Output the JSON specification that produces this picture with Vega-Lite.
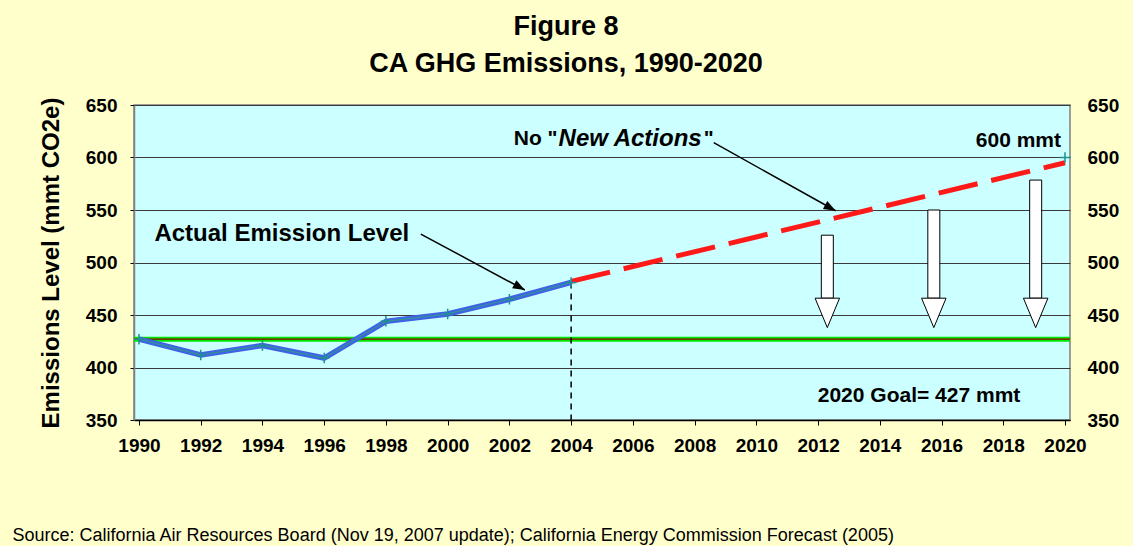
{
  "$schema": "https://vega.github.io/schema/vega-lite/v6.json",
  "autosize": {"type": "none"},
  "padding": {"left": 134, "top": 105, "right": 63, "bottom": 126},
  "width": 936,
  "height": 315,
  "background": "#FFFFCC",
  "title": {
    "text": ["Figure 8", "CA GHG Emissions, 1990-2020"],
    "font": "Liberation Sans",
    "fontSize": 27,
    "fontWeight": "bold",
    "color": "#000000",
    "lineHeight": 37,
    "anchor": "middle",
    "frame": "group",
    "dx": -36,
    "offset": 18
  },
  "config": {
    "font": "Liberation Sans",
    "view": {"fill": "#CCFFFF", "stroke": "#808080", "strokeWidth": 1.5}
  },
  "datasets": {
    "actual": [
      {"year": 1990, "value": 427},
      {"year": 1992, "value": 412},
      {"year": 1994, "value": 421},
      {"year": 1996, "value": 409},
      {"year": 1998, "value": 444},
      {"year": 2000, "value": 451},
      {"year": 2002, "value": 465},
      {"year": 2004, "value": 481}
    ],
    "forecast": [
      {"year": 2004, "value": 482},
      {"year": 2020, "value": 595}
    ],
    "endMarker": [{"year": 2020, "value": 600}],
    "goal": [{"value": 427}],
    "divider": [{"year": 2004, "value": 481}],
    "blockArrows": [
      {"year": 2012.3, "top": 526},
      {"year": 2015.75, "top": 550},
      {"year": 2019.05, "top": 578.5}
    ],
    "pointers": [
      {"x1": 1999.13, "y1": 527.1, "x2": 2002.5, "y2": 473.8},
      {"x1": 2008.62, "y1": 614.1, "x2": 2012.57, "y2": 549.3}
    ]
  },
  "resolve": {"scale": {"y": "independent"}},
  "layer": [
    {
      "data": {"name": "goal"},
      "layer": [
        {
          "mark": {"type": "rule", "color": "#00E600", "strokeWidth": 5},
          "encoding": {
            "y": {
              "field": "value",
              "type": "quantitative",
              "scale": {"domain": [350, 650], "nice": false, "zero": false},
              "axis": {
                "orient": "right",
                "values": [350, 400, 450, 500, 550, 600, 650],
                "title": null,
                "grid": false,
                "domain": false,
                "ticks": false,
                "labelPadding": 17,
                "labelFont": "Liberation Sans",
                "labelFontSize": 19,
                "labelFontWeight": "bold",
                "labelColor": "#000000"
              }
            }
          }
        },
        {
          "mark": {"type": "rule", "color": "#990000", "strokeWidth": 1.2},
          "encoding": {
            "y": {"field": "value", "type": "quantitative"}
          }
        }
      ]
    },
    {
      "layer": [
        {
          "data": {"name": "divider"},
          "mark": {"type": "rule", "color": "#000000", "strokeWidth": 1.5, "strokeDash": [6, 5]},
          "encoding": {
            "x": {
              "field": "year",
              "type": "quantitative",
              "scale": {"domain": [1990, 2020], "nice": false, "zero": false},
              "axis": {
                "values": [1990, 1992, 1994, 1996, 1998, 2000, 2002, 2004, 2006, 2008, 2010, 2012, 2014, 2016, 2018, 2020],
                "format": "d",
                "grid": false,
                "domainColor": "#000000",
                "domainWidth": 1.5,
                "tickColor": "#000000",
                "tickSize": 5,
                "labelPadding": 11,
                "labelFont": "Liberation Sans",
                "labelFontSize": 19,
                "labelFontWeight": "bold",
                "labelColor": "#000000",
                "labelFlush": false,
                "title": "Source: California Air Resources Board (Nov 19, 2007 update); California Energy Commission Forecast (2005)",
                "titleFont": "Liberation Sans",
                "titleFontSize": 18,
                "titleFontWeight": "normal",
                "titleColor": "#000000",
                "titleAnchor": "start",
                "titleAlign": "left",
                "titleBaseline": "middle",
                "titleX": -122,
                "titleY": 115
              }
            },
            "y": {
              "field": "value",
              "type": "quantitative",
              "scale": {"domain": [350, 650], "nice": false, "zero": false},
              "axis": {
                "orient": "left",
                "values": [350, 400, 450, 500, 550, 600, 650],
                "grid": true,
                "gridColor": "#3A3A3A",
                "gridWidth": 1,
                "domainColor": "#808080",
                "domainWidth": 1.5,
                "tickColor": "#000000",
                "tickSize": 4,
                "labelPadding": 13,
                "labelFont": "Liberation Sans",
                "labelFontSize": 19,
                "labelFontWeight": "bold",
                "labelColor": "#000000",
                "title": "Emissions Level (mmt CO2e)",
                "titleFont": "Liberation Sans",
                "titleFontSize": 24,
                "titleFontWeight": "bold",
                "titleColor": "#000000",
                "titlePadding": 22
              }
            },
            "y2": {"datum": 350}
          }
        },
        {
          "data": {"name": "forecast"},
          "mark": {"type": "line", "color": "#FF1A1A", "strokeWidth": 5, "strokeDash": [40, 14]},
          "encoding": {
            "x": {"field": "year", "type": "quantitative"},
            "y": {"field": "value", "type": "quantitative"}
          }
        },
        {
          "data": {"name": "actual"},
          "mark": {"type": "line", "color": "#3F62E6", "strokeWidth": 5.5},
          "encoding": {
            "x": {"field": "year", "type": "quantitative"},
            "y": {"field": "value", "type": "quantitative"}
          }
        },
        {
          "data": {"name": "actual"},
          "mark": {"type": "line", "color": "#2E9494", "strokeWidth": 1.2},
          "encoding": {
            "x": {"field": "year", "type": "quantitative"},
            "y": {"field": "value", "type": "quantitative"}
          }
        },
        {
          "data": {"name": "actual"},
          "mark": {"type": "point", "shape": "M-1,0L1,0M0,-1L0,1", "size": 110, "filled": false, "stroke": "#1F8F8F", "strokeWidth": 1.5, "opacity": 1},
          "encoding": {
            "x": {"field": "year", "type": "quantitative"},
            "y": {"field": "value", "type": "quantitative"}
          }
        },
        {
          "data": {"name": "endMarker"},
          "mark": {"type": "point", "shape": "M-1,0L1,0M0,-1L0,1", "size": 110, "filled": false, "stroke": "#1F8F8F", "strokeWidth": 1.5, "opacity": 1, "clip": false},
          "encoding": {
            "x": {"field": "year", "type": "quantitative"},
            "y": {"field": "value", "type": "quantitative"}
          }
        },
        {
          "data": {"name": "blockArrows"},
          "mark": {"type": "bar", "size": 12, "fill": "#FFFFFF", "stroke": "#000000", "strokeWidth": 1},
          "encoding": {
            "x": {"field": "year", "type": "quantitative"},
            "y": {"field": "top", "type": "quantitative"},
            "y2": {"datum": 466}
          }
        },
        {
          "data": {"name": "blockArrows"},
          "mark": {"type": "point", "shape": "M-1,0L1,0L0,2.4Z", "size": 600, "filled": true, "fill": "#FFFFFF", "stroke": "#000000", "strokeWidth": 1, "opacity": 1},
          "encoding": {
            "x": {"field": "year", "type": "quantitative"},
            "y": {"datum": 466}
          }
        },
        {
          "data": {"name": "pointers"},
          "mark": {"type": "rule", "color": "#000000", "strokeWidth": 1.5},
          "encoding": {
            "x": {"field": "x1", "type": "quantitative"},
            "y": {"field": "y1", "type": "quantitative"},
            "x2": {"field": "x2"},
            "y2": {"field": "y2"}
          }
        },
        {
          "data": {"name": "pointers"},
          "mark": {"type": "point", "shape": "M0,0L-2,-0.75L-2,0.75Z", "size": 144, "angle": 28.5, "filled": true, "color": "#000000", "opacity": 1},
          "encoding": {
            "x": {"field": "x2", "type": "quantitative"},
            "y": {"field": "y2", "type": "quantitative"}
          }
        },
        {
          "data": {"values": [{"year": 1990.5, "value": 527.1, "label": "Actual Emission Level"}]},
          "mark": {"type": "text", "align": "left", "baseline": "middle", "font": "Liberation Sans", "fontSize": 24, "fontWeight": "bold", "color": "#000000"},
          "encoding": {
            "x": {"field": "year", "type": "quantitative"},
            "y": {"field": "value", "type": "quantitative"},
            "text": {"field": "label"}
          }
        },
        {
          "data": {"values": [{"year": 2003.56, "value": 617.6, "label": "No \""}]},
          "mark": {"type": "text", "align": "right", "baseline": "middle", "font": "Liberation Sans", "fontSize": 21, "fontWeight": "bold", "color": "#000000"},
          "encoding": {
            "x": {"field": "year", "type": "quantitative"},
            "y": {"field": "value", "type": "quantitative"},
            "text": {"field": "label"}
          }
        },
        {
          "data": {"values": [{"year": 2003.56, "value": 617.6, "label": "New Actions"}]},
          "mark": {"type": "text", "align": "left", "baseline": "middle", "dx": 1, "font": "Liberation Sans", "fontSize": 24, "fontWeight": "bold", "fontStyle": "italic", "color": "#000000"},
          "encoding": {
            "x": {"field": "year", "type": "quantitative"},
            "y": {"field": "value", "type": "quantitative"},
            "text": {"field": "label"}
          }
        },
        {
          "data": {"values": [{"year": 2008.3, "value": 617.6, "label": "\""}]},
          "mark": {"type": "text", "align": "left", "baseline": "middle", "font": "Liberation Sans", "fontSize": 21, "fontWeight": "bold", "color": "#000000"},
          "encoding": {
            "x": {"field": "year", "type": "quantitative"},
            "y": {"field": "value", "type": "quantitative"},
            "text": {"field": "label"}
          }
        },
        {
          "data": {"values": [{"year": 2019.87, "value": 615.7, "label": "600 mmt"}]},
          "mark": {"type": "text", "align": "right", "baseline": "middle", "font": "Liberation Sans", "fontSize": 21, "fontWeight": "bold", "color": "#000000"},
          "encoding": {
            "x": {"field": "year", "type": "quantitative"},
            "y": {"field": "value", "type": "quantitative"},
            "text": {"field": "label"}
          }
        },
        {
          "data": {"values": [{"year": 2011.99, "value": 372.9, "label": "2020 Goal= 427 mmt"}]},
          "mark": {"type": "text", "align": "left", "baseline": "middle", "font": "Liberation Sans", "fontSize": 21, "fontWeight": "bold", "color": "#000000"},
          "encoding": {
            "x": {"field": "year", "type": "quantitative"},
            "y": {"field": "value", "type": "quantitative"},
            "text": {"field": "label"}
          }
        }
      ]
    }
  ]
}
